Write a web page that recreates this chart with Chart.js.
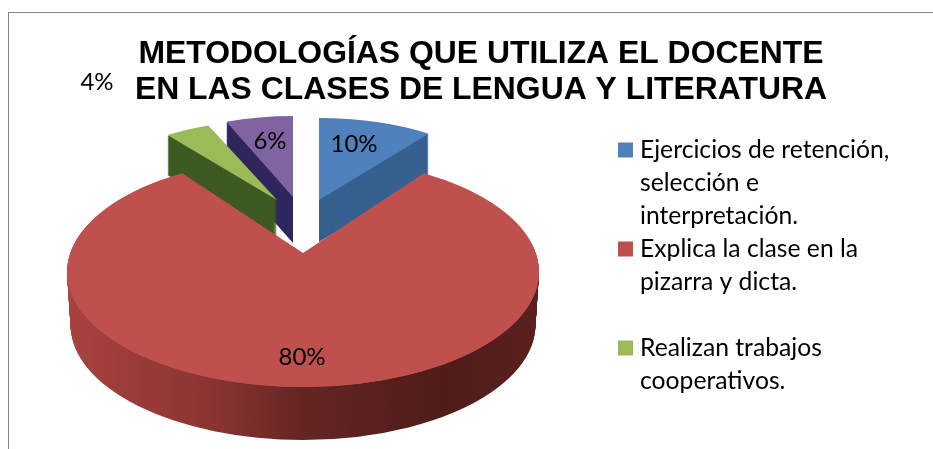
<!DOCTYPE html>
<html><head><meta charset="utf-8">
<script src="https://cdn.jsdelivr.net/npm/chart.js@4"></script>
<style>
html,body{margin:0;padding:0;width:933px;height:449px;overflow:hidden;background:#fff}
#frame{position:absolute;left:8px;top:12px;width:944px;height:460px;border-left:1px solid #868686;border-top:1px solid #868686;background:#fff}
canvas{display:block}
</style></head><body>
<div id="frame"><canvas id="c" width="944" height="460"></canvas></div>
<script>
const titleLines = ['METODOLOGÍAS QUE UTILIZA EL DOCENTE','EN LAS CLASES DE LENGUA Y LITERATURA'];
const categories = ['Ejercicios de retención, selección e interpretación.','Explica la clase en la pizarra y dicta.','Realizan trabajos cooperativos.',''];
const values = [10,80,4,6];
const legendLines = [['Ejercicios de retención,','selección e','interpretación.'],['Explica la clase en la','pizarra y dicta.',''],['Realizan trabajos','cooperativos.']];
const faceColors = ['#4F81BD','#BF504D','#9BBB59','#8064A2'];
const wallColors = ['#35608F','','#3E5A22','#30265E'];
// 3D view for each slice: shift from the chart centre, x/y squash, wall depth
const views = [
  {dx:-162,dy:-89,sx:.79,sy:.347,depth:42,apexLift:0,shrink:0,pad:0},
  {dx:-178,dy:-17,sx:1,sy:.487,depth:53,apexLift:19,shrink:.015,pad:5.2*Math.PI/180},
  {dx:-204,dy:-89,sx:.79,sy:.34,depth:40,apexLift:0,shrink:0,pad:0},
  {dx:-188,dy:-92,sx:.767,sy:.343,depth:46,apexLift:0,shrink:0,pad:0}
];
const labelShift = [[-127,-145],[-179,68],[-384,-207],[-211,-148]];
const paintOrder = [3,2,0,1];
const labelFont = '24px Lato, Carlito, sans-serif';
const legendFont = '24.7px Lato, Carlito, sans-serif';

function drawArc(arc,ctx,color){
  const p = Object.create(arc,{options:{value:Object.assign({},arc.options,{backgroundColor:color,borderWidth:0}),writable:true}});
  arc.draw.call(p,ctx);
}
const pie3d = {
  id:'pie3d',
  beforeDatasetDraw(chart,args){
    const ctx = chart.ctx, arcs = args.meta.data;
    paintOrder.forEach(i=>{
      const a = arcs[i], v = views[i];
      let wall = wallColors[i];
      if(i===1){
        wall = ctx.createLinearGradient(a.x-a.outerRadius,0,a.x+a.outerRadius,0);
        wall.addColorStop(0,'#A8423F');wall.addColorStop(.3,'#8A3532');wall.addColorStop(.5,'#652523');wall.addColorStop(.8,'#4E1C1A');wall.addColorStop(1,'#5A201E');
      }
      const place = (t,k)=>{
        ctx.translate(a.x+v.dx,a.y+v.dy+t);
        ctx.scale(v.sx*k,v.sy);
        ctx.translate(-a.x,-a.y);
      };
      for(let t=v.depth;t>=1;t--){
        ctx.save();place(t,1-v.shrink*t/v.depth);drawArc(a,ctx,wall);ctx.restore();
      }
      ctx.save();place(0,1);
      drawArc(a,ctx,faceColors[i]);
      if(v.apexLift){
        // perspective: the back corners of the face close in on a raised apex
        const R=a.outerRadius, s=a.startAngle-v.pad, e=a.endAngle+v.pad;
        ctx.beginPath();
        ctx.moveTo(a.x,a.y-v.apexLift/v.sy);
        ctx.lineTo(a.x+R*Math.cos(s),a.y+R*Math.sin(s));
        ctx.arc(a.x,a.y,R,s,e);
        ctx.closePath();
        ctx.fillStyle=faceColors[i];ctx.fill();
      }
      ctx.restore();
    });
    return false;
  },
  afterDraw(chart){
    const ctx = chart.ctx, arcs = chart.getDatasetMeta(0).data;
    ctx.save();
    ctx.fillStyle='#000';ctx.font=labelFont;ctx.textAlign='center';ctx.textBaseline='middle';
    values.forEach((val,i)=>{
      ctx.fillText(val+'%',arcs[i].x+labelShift[i][0],arcs[i].y+labelShift[i][1]);
    });
    // legend
    ctx.textAlign='left';ctx.font=legendFont;
    const left=609,boxSize=15,textLeft=631,step=33;
    let y=137;
    legendLines.forEach((lines,i)=>{
      ctx.fillStyle=faceColors[i];
      ctx.fillRect(left,y-7.5,boxSize,boxSize);
      ctx.fillStyle='#000';
      lines.forEach(l=>{ if(l) ctx.fillText(l,textLeft,y); y+=step; });
    });
    ctx.restore();
  }
};
new Chart(document.getElementById('c'),{
  type:'pie',
  data:{labels:categories,datasets:[{data:values,backgroundColor:faceColors,borderWidth:0,radius:236}]},
  options:{
    responsive:false,animation:false,
    layout:{padding:{bottom:3}},
    plugins:{
      legend:{display:false},tooltip:{enabled:false},
      title:{display:true,text:titleLines,color:'#000',font:{family:'"Liberation Sans", Arial, sans-serif',size:31.9,weight:'bold',lineHeight:36/31.9},padding:{top:23,bottom:0}}
    }
  },
  plugins:[pie3d]
});
</script>
</body></html>
